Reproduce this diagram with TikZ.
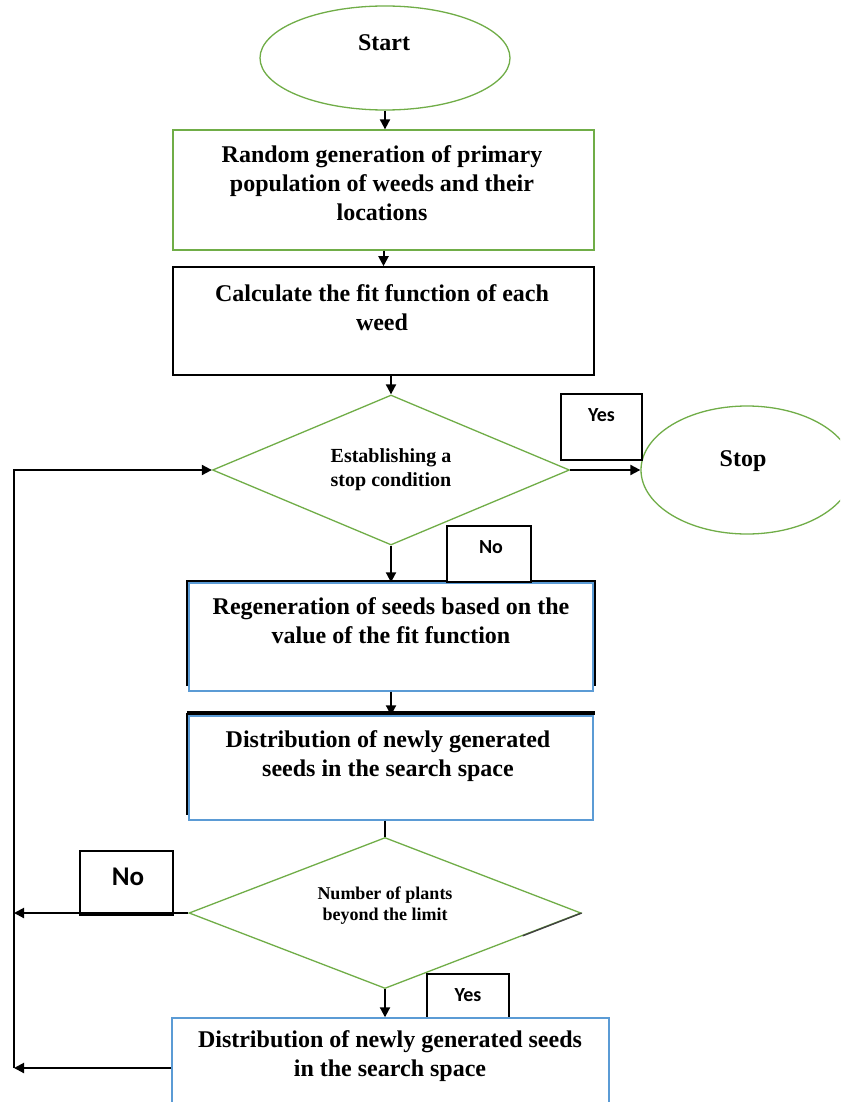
\documentclass[tikz,border=0pt]{standalone}
\usepackage{fontspec}
\setmainfont{Liberation Serif}
\newfontfamily\labfont{Carlito}
\usetikzlibrary{shapes.geometric,arrows.meta,calc}
\definecolor{fgreen}{RGB}{112,173,71}
\definecolor{fblue}{RGB}{91,155,213}
\tikzset{
  flow/.style={line width=2pt,-{Triangle[length=10pt,width=10pt]}},
  plainline/.style={line width=2pt},
  greenline/.style={draw=fgreen,line width=1.3pt},
  blueline/.style={draw=fblue,line width=1.4pt},
  boxshape/.style={rectangle,inner sep=0pt},
  maintext/.style={font=\fontsize{24}{29}\selectfont\bfseries,align=center,inner sep=0pt},
  dtext/.style={font=\fontsize{20}{24}\selectfont\bfseries,align=center},
  dtextsmall/.style={font=\fontsize{18}{21}\selectfont\bfseries,align=center},
  labbox/.style={draw=black,line width=1.6pt,fill=white,rectangle,inner sep=0pt},
  labtext/.style={font=\labfont\bfseries\fontsize{20}{24}\selectfont,inner sep=0pt},
  labtextbig/.style={font=\labfont\bfseries\fontsize{27}{30}\selectfont,inner sep=0pt},
}
\begin{document}
\begin{tikzpicture}[x=1pt,y=-1pt]
\useasboundingbox (0,0) rectangle (840,1102);
\clip (0,0) rectangle (840,1102);
\fill[white] (0,0) rectangle (840,1102);

% Start
\node[ellipse,greenline,minimum width=250pt,minimum height=104pt,inner sep=0pt] (start) at (385,58) {};
\node[maintext] (startt) at (384,43) {Start};

% Box 1
\node[boxshape,greenline,minimum width=421pt,minimum height=120pt] (b1) at (383.5,190) {};
\node[maintext] (b1t) at (382,183.5) {Random generation of primary\\population of weeds and their\\locations};

% Box 2
\node[boxshape,draw=black,line width=1.6pt,minimum width=421pt,minimum height=108pt] (b2) at (383.5,321) {};
\node[maintext] (b2t) at (382,307.5) {Calculate the fit function of each\\weed};

% Decision 1
\node[diamond,greenline,shape aspect=2.38,minimum width=357pt,minimum height=150pt,inner sep=0pt,dtext] (d1) at (391,470) {Establishing a\\stop condition};

% Stop
\node[ellipse,greenline,minimum width=212pt,minimum height=128pt,inner sep=0pt] (stop) at (747,470) {};
\node[maintext] (stopt) at (743,461) {Stop};

% Yes label 1
\node[labbox,minimum width=81pt,minimum height=66pt] (yes1) at (601.5,427) {};
\node[labtext] (yes1t) at (601.5,415) {Yes};

% Box 3
\draw[line width=1.6pt] (187,686) -- (187,581) -- (595,581) -- (595,686);
\node[boxshape,blueline,minimum width=404pt,minimum height=108pt] (b3) at (391,637) {};
\node[maintext] (b3t) at (391,621) {Regeneration of seeds based on the\\value of the fit function};

% No label 1
\node[labbox,minimum width=84pt,minimum height=56pt] (no1) at (489,554) {};
\node[labtext] (no1t) at (491,547) {No};

% Box 4
\draw[line width=1.6pt] (187,713) -- (187,815);
\node[boxshape,blueline,minimum width=404pt,minimum height=104pt] (b4) at (391,768) {};
\draw[line width=4pt] (187,713) -- (595,713);
\node[maintext] (b4t) at (388,756) {Distribution of newly generated\\seeds in the search space};

% Decision 2
\node[diamond,greenline,shape aspect=2.6,minimum width=392pt,minimum height=151pt,inner sep=0pt] (d2) at (385,913) {};
\node[dtextsmall] (d2t) at (385,906) {Number of plants\\beyond the limit};
\draw[line width=1.4pt,black!75] (d2.east) -- ($(d2.east)!0.3!(d2.south)$);

% No label 2
\node[labbox,minimum width=93pt,minimum height=64pt] (no2) at (126.5,883) {};
\node[labtextbig] (no2t) at (128,877) {No};

% Yes label 2
\node[labbox,minimum width=82pt,minimum height=44pt] (yes2) at (468,996) {};
\node[labtext] (yes2t) at (468,995) {Yes};

% Box 5
\node[boxshape,blueline,minimum width=437pt,minimum height=100pt] (b5) at (390.5,1068) {};
\node[maintext] (b5t) at (390,1056) {Distribution of newly generated seeds\\in the search space};

% loop coordinates
\coordinate (lt) at (14,470);

% connectors
\draw[flow] (start.south) -- (start.south |- b1.north);
\draw[flow] (b1.south) -- (b2.north);
\draw[flow] (d1.north |- b2.south) -- (d1.north);
\draw[flow] (d1.east) -- (stop.west);
\draw[flow] (d1.south) -- (d1.south |- b3.north);
\draw[flow] (b3.south) -- (b4.north);
\draw[plainline] (d2.north |- b4.south) -- (d2.north);
\draw[flow] (d2.south) -- (d2.south |- b5.north);
\draw[flow] (d2.west) -- (d2.west -| lt);
\draw[flow] (b5.west) -- (b5.west -| lt);
\draw[flow] (b5.west -| lt) -- (lt) -- (d1.west);
\end{tikzpicture}
\end{document}
